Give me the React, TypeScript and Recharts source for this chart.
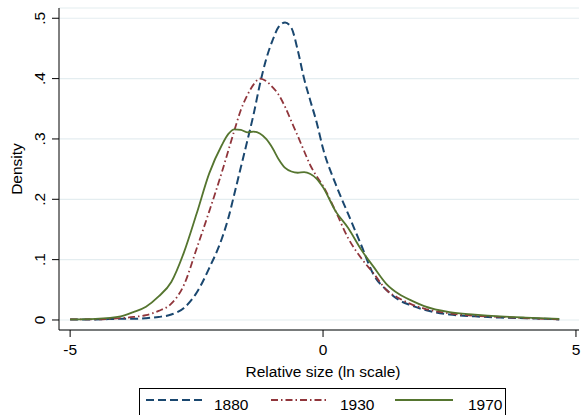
import { LineChart, Line, XAxis, YAxis, CartesianGrid, Label } from "recharts"

// relative size (ln scale) grid points the curves were read at
const sizeGrid = [
  -5, -4.5, -4, -3.75, -3.5, -3.25, -3, -2.75, -2.5, -2.25, -2, -1.875, -1.75, -1.625,
  -1.5, -1.375, -1.25, -1.125, -1, -0.875, -0.75, -0.625, -0.5, -0.375, -0.25, -0.125,
  0, 0.25, 0.5, 0.75, 1, 1.25, 1.5, 1.75, 2, 2.5, 3, 3.5, 4, 4.67,
]

const density1880 = [
  0.001, 0.001, 0.002, 0.002, 0.003, 0.005, 0.009, 0.02, 0.045, 0.086, 0.135, 0.168, 0.21, 0.253,
  0.296, 0.34, 0.39, 0.432, 0.463, 0.486, 0.493, 0.484, 0.447, 0.4, 0.363, 0.327,
  0.284, 0.225, 0.175, 0.125, 0.075, 0.05, 0.033, 0.024, 0.017, 0.009, 0.006, 0.004, 0.003, 0.001,
]

const density1930 = [
  0.001, 0.001, 0.003, 0.005, 0.008, 0.015, 0.027, 0.058, 0.118, 0.18, 0.245, 0.28, 0.315, 0.348,
  0.372, 0.39, 0.4, 0.396, 0.386, 0.373, 0.353, 0.329, 0.305, 0.28, 0.256, 0.238,
  0.222, 0.18, 0.135, 0.103, 0.077, 0.05, 0.036, 0.026, 0.019, 0.011, 0.007, 0.005, 0.003, 0.001,
]

const density1970 = [
  0.001, 0.002, 0.006, 0.013, 0.022, 0.039, 0.063, 0.112, 0.176, 0.243, 0.29, 0.308, 0.316, 0.315,
  0.311, 0.312, 0.309, 0.3, 0.285, 0.266, 0.252, 0.246, 0.244, 0.245, 0.242, 0.234,
  0.22, 0.18, 0.152, 0.117, 0.088, 0.06, 0.043, 0.032, 0.023, 0.013, 0.009, 0.006, 0.004, 0.002,
]

const xTicks = [-5, 0, 5]
const yTicks = [0, 0.1, 0.2, 0.3, 0.4, 0.5]
const yTickLabels = ["0", ".1", ".2", ".3", ".4", ".5"]

const rows = sizeGrid.map((x, i) => ({
  x,
  d1880: density1880[i],
  d1930: density1930[i],
  d1970: density1970[i],
}))

const FONT = '"Liberation Sans", Arial, sans-serif'
const FS = 15.5
const BLUE = "#1a476f"
const RED = "#90353b"
const GREEN = "#55752f"
const DASH = "8 4"
const DASHDOT = "7 3 1.5 3"

function XTick(props: any) {
  const { x, y, payload } = props
  return (
    <text x={x} y={y} dy="0.71em" textAnchor="middle" fontSize={FS} fontFamily={FONT} fill="#000">
      {payload.value < 0 ? "-" + Math.abs(payload.value) : payload.value}
    </text>
  )
}

function YTick(props: any) {
  const { x, y, payload } = props
  const label = yTickLabels[yTicks.indexOf(payload.value)] ?? String(payload.value)
  return (
    <text x={x} y={y} transform={`rotate(-90 ${x} ${y})`} textAnchor="middle" fontSize={FS} fontFamily={FONT} fill="#000">
      {label}
    </text>
  )
}

export default function App() {
  return (
    <div style={{ position: "absolute", left: 0, top: 0, width: 584, height: 415, background: "#fff", overflow: "hidden", fontFamily: FONT }}>
      <LineChart width={584} height={415} data={rows} margin={{ top: 8, right: 5, bottom: 0, left: 0 }}>
        <CartesianGrid horizontal vertical={false} stroke="#e4edf0" strokeWidth={1.2} />
        <XAxis
          dataKey="x"
          type="number"
          domain={[-5.22, 5.06]}
          ticks={xTicks}
          allowDataOverflow
          height={85}
          tickSize={7}
          tickMargin={7}
          tick={XTick}
          axisLine={{ stroke: "#000" }}
          tickLine={{ stroke: "#000" }}
        >
          <Label
            content={(p: any) => {
              const vb = p.viewBox
              return (
                <text x={vb.x + vb.width / 2 + 4} y={vb.y + 47} textAnchor="middle" fontSize={FS} fontFamily={FONT} fill="#000">
                  Relative size (ln scale)
                </text>
              )
            }}
          />
        </XAxis>
        <YAxis
          type="number"
          domain={[-0.0166, 0.517]}
          ticks={yTicks}
          allowDataOverflow
          width={59}
          tickSize={7}
          tickMargin={7}
          tick={YTick}
          axisLine={{ stroke: "#000" }}
          tickLine={{ stroke: "#000" }}
        >
          <Label
            content={(p: any) => {
              const vb = p.viewBox
              const cx = vb.x + 22
              const cy = vb.y + vb.height / 2
              return (
                <text x={cx} y={cy} transform={`rotate(-90 ${cx} ${cy})`} textAnchor="middle" fontSize={FS} fontFamily={FONT} fill="#000">
                  Density
                </text>
              )
            }}
          />
        </YAxis>
        <Line dataKey="d1880" type="monotone" stroke={BLUE} strokeWidth={2} strokeDasharray={DASH} dot={false} isAnimationActive={false} />
        <Line dataKey="d1930" type="monotone" stroke={RED} strokeWidth={1.8} strokeDasharray={DASHDOT} dot={false} isAnimationActive={false} />
        <Line dataKey="d1970" type="monotone" stroke={GREEN} strokeWidth={1.8} dot={false} isAnimationActive={false} />
      </LineChart>

      {/* legend */}
      <svg style={{ position: "absolute", left: 139, top: 388 }} width={368} height={30}>
        <rect x={0.5} y={0.5} width={366} height={40} fill="#fff" stroke="#000" strokeWidth={1} />
        <line x1={7} y1={12} x2={65} y2={12} stroke={BLUE} strokeWidth={2} strokeDasharray={DASH} />
        <text x={75} y={22} fontSize={FS} fontFamily={FONT} fill="#000">1880</text>
        <line x1={132} y1={12} x2={189} y2={12} stroke={RED} strokeWidth={1.8} strokeDasharray={DASHDOT} />
        <text x={201} y={22} fontSize={FS} fontFamily={FONT} fill="#000">1930</text>
        <line x1={256} y1={12} x2={314} y2={12} stroke={GREEN} strokeWidth={1.8} />
        <text x={329} y={22} fontSize={FS} fontFamily={FONT} fill="#000">1970</text>
      </svg>
    </div>
  )
}
